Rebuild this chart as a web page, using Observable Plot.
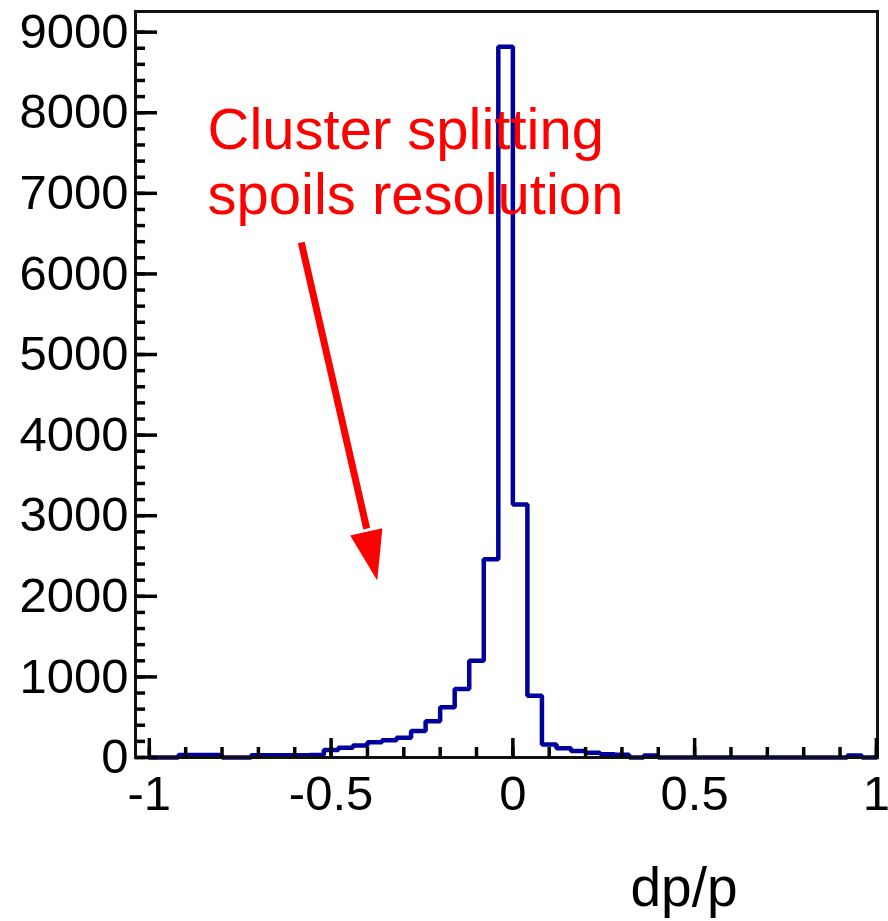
<!DOCTYPE html>
<html>
<head>
<meta charset="utf-8">
<script src="https://cdn.jsdelivr.net/npm/d3@7"></script>
<script src="https://cdn.jsdelivr.net/npm/@observablehq/plot@0.6"></script>
<style>
  html, body { margin: 0; padding: 0; background: #fff; }
  #chart svg { display: block; }
</style>
</head>
<body>
<div id="chart"></div>
<script>
// ---- data ----
const binLow = -1.0;          // lower edge of first bin
const binWidth = 0.04;        // bin width
const counts = [
  0, 0, 30, 30, 30, 0, 0, 28, 28, 28,
  28, 30, 92, 120, 150, 190, 215, 245, 330, 450,
  625, 850, 1200, 2460, 8820, 3140, 765, 160, 115, 80,
  60, 40, 35, 0, 25, 0, 0, 0, 0, 0,
  0, 0, 0, 0, 0, 0, 0, 0, 25, 0
];
const xMajorTicks = [-1, -0.5, 0, 0.5, 1];
const xTickLabels = ["-1", "-0.5", "0", "0.5", "1"];
const yMajorTicks = [0, 1000, 2000, 3000, 4000, 5000, 6000, 7000, 8000, 9000];
const xTitle = "dp/p";
const noteLines = ["Cluster splitting", "spoils resolution"];
const arrowShaft = [{x1: -0.582, y1: 6390, x2: -0.402, y2: 2840}];
const arrowTip = [{x: -0.373, y: 2195}];

// ---- build histogram outline ----
const edges = counts.map((_, i) => +(binLow + i * binWidth).toFixed(4));
const binHigh = +(binLow + counts.length * binWidth).toFixed(4);
const steps = [{x: binLow, y: 0}]
  .concat(counts.map((c, i) => ({x: edges[i], y: c})))
  .concat([{x: binHigh, y: counts[counts.length - 1]}, {x: binHigh, y: 0}]);

const xMinor = d3.range(-10, 11).map(d => d / 10);
const yMinor = d3.range(0, 46).map(d => d * 200);

const FONT = "'Liberation Sans', Arial, Helvetica, sans-serif";

// slender filled arrow head, tip at origin, pointing up
const headSymbol = {
  draw(context) {
    context.moveTo(0, 0);
    context.lineTo(16.5, 50);
    context.lineTo(-16.5, 50);
    context.closePath();
  }
};

const chart = Plot.plot({
  width: 888,
  height: 921,
  marginLeft: 135,
  marginRight: 11,
  marginTop: 11,
  marginBottom: 164,
  style: {fontFamily: FONT, background: "#fff", color: "#000"},
  x: {domain: [-1.038, 1.003]},
  y: {domain: [0, 9256]},
  marks: [
    // histogram
    Plot.line(steps, {x: "x", y: "y", curve: "step-after", stroke: "#00009c", strokeWidth: 4.5, strokeLinejoin: "miter"}),
    // annotation
    Plot.text([noteLines.join("\n")], {
      frameAnchor: "top-left", textAnchor: "start", lineAnchor: "top",
      dx: 72, dy: 91, fontSize: 58, lineHeight: 1.12, fill: "#ff0000"
    }),
    Plot.link(arrowShaft, {x1: "x1", y1: "y1", x2: "x2", y2: "y2", stroke: "#ff0000", strokeWidth: 7, strokeLinecap: "butt"}),
    Plot.dot(arrowTip, {x: "x", y: "y", symbol: headSymbol, r: 1, fill: "#ff0000", stroke: "none", rotate: 167.3}),
    // frame
    Plot.frame({stroke: "#111", strokeWidth: 3}),
    // y axis ticks (inward)
    Plot.axisY(yMinor, {anchor: "left", tickSize: -10, strokeWidth: 3.5, text: null, label: null}),
    Plot.axisY(yMajorTicks, {anchor: "left", tickSize: -22, strokeWidth: 3.5, text: null, label: null}),
    Plot.axisY(yMajorTicks, {anchor: "left", tickSize: 0, tickPadding: 7, fontSize: 49, label: null, tickFormat: d => String(d)}),
    // x axis ticks (inward)
    Plot.axisX(xMinor, {anchor: "bottom", tickSize: -10, strokeWidth: 3.5, text: null, label: null}),
    Plot.axisX(xMajorTicks, {anchor: "bottom", tickSize: -19, strokeWidth: 3.5, text: null, label: null}),
    Plot.axisX(xMajorTicks, {anchor: "bottom", tickSize: 0, tickPadding: 18, fontSize: 49, label: null,
      tickFormat: d => xTickLabels[xMajorTicks.indexOf(d)]}),
    // x title
    Plot.text([xTitle], {frameAnchor: "bottom-right", textAnchor: "end", lineAnchor: "bottom",
      dx: -140, dy: 148, fontSize: 55, fill: "#000"})
  ]
});
document.getElementById("chart").appendChild(chart);
</script>
</body>
</html>
